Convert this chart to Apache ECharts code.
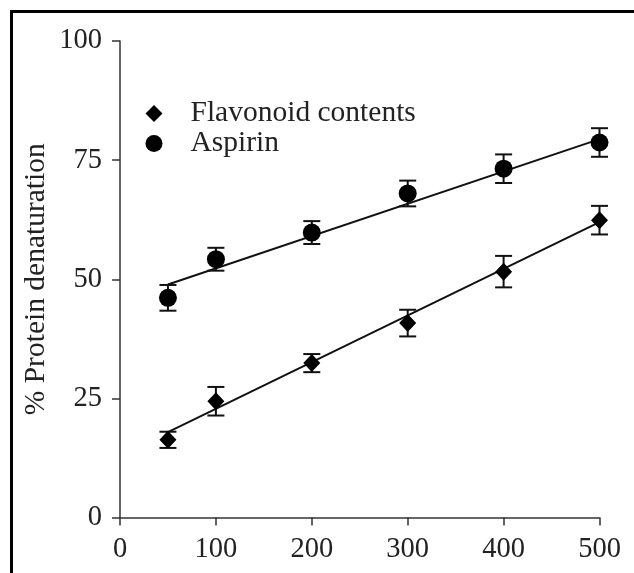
<!DOCTYPE html>
<html>
<head>
<meta charset="utf-8">
<script src="https://cdn.jsdelivr.net/npm/echarts@6/dist/echarts.min.js"></script>
<style>
html,body{margin:0;padding:0;background:#fff;}
#chart{width:634px;height:573px;}
</style>
</head>
<body>
<div id="chart"></div>
<script>
// Data
var doses = [50, 100, 200, 300, 400, 500];
var flavonoid = [16.3, 24.4, 32.4, 40.8, 51.6, 62.4];
var flavonoidErr = [1.7, 3.0, 1.9, 2.8, 3.3, 3.0];
var aspirin = [46.1, 54.2, 59.8, 68.0, 73.2, 78.7];
var aspirinErr = [2.7, 2.4, 2.4, 2.7, 3.0, 3.0];
var flavonoidFitX = [50, 500];
var flavonoidFitY = [17.9, 62.0];
var aspirinFitX = [50, 500];
var aspirinFitY = [48.9, 79.4];
var xTicks = [0, 100, 200, 300, 400, 500];
var yTicks = [0, 25, 50, 75, 100];

var FONT = '"Liberation Serif", "Times New Roman", serif';

function pairs(xs, ys) { return xs.map(function (x, i) { return [x, ys[i]]; }); }
function errData(xs, ys, es) { return xs.map(function (x, i) { return [x, ys[i] - es[i], ys[i] + es[i]]; }); }

function errRender(params, api) {
  var x = api.value(0);
  var lo = api.coord([x, api.value(1)]);
  var hi = api.coord([x, api.value(2)]);
  var hw = 8.5;
  var st = { stroke: '#111', lineWidth: 2 };
  return {
    type: 'group',
    children: [
      { type: 'line', shape: { x1: lo[0], y1: lo[1], x2: hi[0], y2: hi[1] }, style: st },
      { type: 'line', shape: { x1: lo[0] - hw, y1: lo[1], x2: lo[0] + hw, y2: lo[1] }, style: st },
      { type: 'line', shape: { x1: hi[0] - hw, y1: hi[1], x2: hi[0] + hw, y2: hi[1] }, style: st }
    ]
  };
}

var chart = echarts.init(document.getElementById('chart'), null, { renderer: 'canvas' });
chart.setOption({
  animation: false,
  backgroundColor: '#fff',
  grid: { left: 120, right: 34.5, top: 41, bottom: 55.5, containLabel: false },
  graphic: [{
    type: 'rect', left: 9, top: 9, z: 100,
    shape: { x: 0, y: 0, width: 700, height: 700 },
    style: { fill: 'none', stroke: '#000', lineWidth: 3 }
  }],
  legend: {
    orient: 'vertical',
    left: 140.5, top: 93.5,
    itemWidth: 17, itemHeight: 17, itemGap: 0,
    data: ['Flavonoid contents', 'Aspirin'],
    textStyle: { fontFamily: FONT, fontSize: 29.5, lineHeight: 29, color: '#222', padding: [0, 0, 0, 23] }
  },
  xAxis: {
    type: 'value', min: 0, max: 500, interval: 100,
    splitLine: { show: false },
    axisLine: { onZero: false, lineStyle: { color: '#333', width: 1.5 } },
    axisTick: { show: true, length: 8, lineStyle: { color: '#333', width: 1.5 } },
    axisLabel: { margin: 18, fontFamily: FONT, fontSize: 28.5, color: '#222',
      formatter: function (v) { return xTicks.indexOf(v) >= 0 ? String(v) : ''; } }
  },
  yAxis: {
    type: 'value', min: 0, max: 100, interval: 25,
    name: '% Protein denaturation', nameLocation: 'middle', nameGap: 69,
    nameMoveOverlap: false,
    nameTextStyle: { fontFamily: FONT, fontSize: 29.5, color: '#222' },
    splitLine: { show: false },
    axisLine: { show: true, onZero: false, lineStyle: { color: '#333', width: 1.5 } },
    axisTick: { show: true, length: 8, lineStyle: { color: '#333', width: 1.5 } },
    axisLabel: { margin: 18, fontFamily: FONT, fontSize: 28.5, color: '#222',
      formatter: function (v) { return yTicks.indexOf(v) >= 0 ? String(v) : ''; } }
  },
  series: [
    { name: 'fitF', type: 'line', data: pairs(flavonoidFitX, flavonoidFitY), showSymbol: false,
      lineStyle: { color: '#111', width: 2 }, z: 2 },
    { name: 'fitA', type: 'line', data: pairs(aspirinFitX, aspirinFitY), showSymbol: false,
      lineStyle: { color: '#111', width: 2 }, z: 2 },
    { name: 'errF', type: 'custom', renderItem: errRender, data: errData(doses, flavonoid, flavonoidErr), z: 3 },
    { name: 'errA', type: 'custom', renderItem: errRender, data: errData(doses, aspirin, aspirinErr), z: 3 },
    { name: 'Flavonoid contents', type: 'scatter', symbol: 'diamond', symbolSize: [17, 18],
      data: pairs(doses, flavonoid), itemStyle: { color: '#000', opacity: 1 }, z: 4 },
    { name: 'Aspirin', type: 'scatter', symbol: 'circle', symbolSize: 18,
      data: pairs(doses, aspirin), itemStyle: { color: '#000', opacity: 1 }, z: 4 }
  ]
});
</script>
</body>
</html>
